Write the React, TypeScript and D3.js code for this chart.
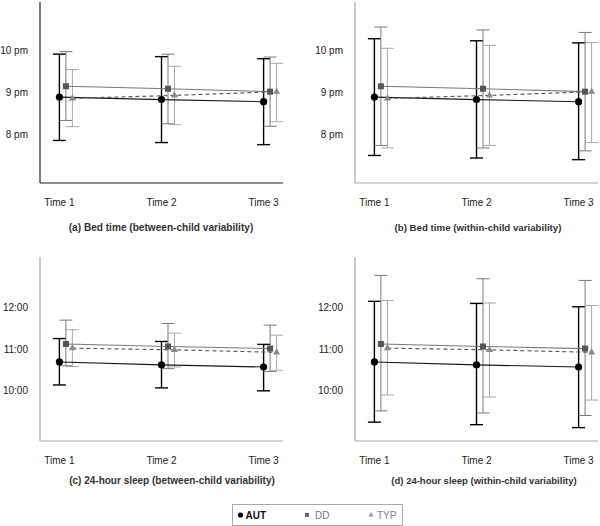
import React from 'react';
import * as d3 from 'd3';

// categories
const times = ['Time 1', 'Time 2', 'Time 3'];
const groups = ['AUT', 'DD', 'TYP'];

// bed time (clock hours, 24h)
const bedMean = {
  AUT: [20.89, 20.83, 20.78],
  DD: [21.15, 21.09, 21.02],
  TYP: [20.86, 20.93, 21.02],
};
const bedBetweenLo = { AUT: [19.85, 19.8, 19.75], DD: [20.33, 20.25, 20.19], TYP: [20.18, 20.23, 20.3] };
const bedBetweenHi = { AUT: [21.92, 21.86, 21.81], DD: [21.98, 21.92, 21.85], TYP: [21.55, 21.63, 21.7] };
const bedWithinLo = { AUT: [19.49, 19.43, 19.39], DD: [19.73, 19.67, 19.6], TYP: [19.67, 19.73, 19.8] };
const bedWithinHi = { AUT: [22.29, 22.24, 22.19], DD: [22.57, 22.5, 22.44], TYP: [22.06, 22.13, 22.2] };

// 24-hour sleep (hours)
const sleepMean = {
  AUT: [10.69, 10.62, 10.57],
  DD: [11.12, 11.06, 11.01],
  TYP: [11.02, 10.98, 10.92],
};
const sleepBetweenLo = { AUT: [10.14, 10.07, 10.0], DD: [10.6, 10.53, 10.46], TYP: [10.58, 10.57, 10.49] };
const sleepBetweenHi = { AUT: [11.25, 11.18, 11.11], DD: [11.69, 11.61, 11.57], TYP: [11.46, 11.38, 11.33] };
const sleepWithinLo = { AUT: [9.25, 9.19, 9.12], DD: [9.52, 9.47, 9.41], TYP: [9.9, 9.85, 9.78] };
const sleepWithinHi = { AUT: [12.14, 12.09, 12.01], DD: [12.76, 12.68, 12.64], TYP: [12.16, 12.1, 12.04] };

// tick labels
const bedTicks = [20, 21, 22];
const bedTickLabels = ['8 pm', '9 pm', '10 pm'];
const sleepTicks = [10, 11, 12];
const sleepTickLabels = ['10:00', '11:00', '12:00'];

const FONT = '"Liberation Sans", Arial, Helvetica, sans-serif';

const style = {
  AUT: { marker: '#000', bar: '#000', line: '#1a1a1a', dash: '', barW: 1.4 },
  DD: { marker: '#555', bar: '#7a7a7a', line: '#7a7a7a', dash: '', barW: 1 },
  TYP: { marker: '#8a8a8a', bar: '#a8a8a8', line: '#555', dash: '4,3', barW: 1 },
};
const offsets = { AUT: 0, DD: 6.5, TYP: 13 };

type PanelProps = {
  left: number; right: number; top: number; bottom: number;
  domain: [number, number];
  ticks: number[]; tickLabels: string[];
  mean: Record<string, number[]>;
  lo: Record<string, number[]>;
  hi: Record<string, number[]>;
  caption: string; capX: number; capSize: number;
  axisColor: string;
  capY: number; timeY: number;
};

function Panel(p: PanelProps) {
  const x = d3.scalePoint<string>().domain(times).range([p.left, p.right]).padding(0.19);
  const y = d3.scaleLinear().domain(p.domain).range([p.bottom, p.top]);

  const marker = (g: string, cx: number, cy: number, key: string) => {
    if (g === 'AUT') return <circle key={key} cx={cx} cy={cy} r={3.6} fill={style.AUT.marker} />;
    if (g === 'DD') return <rect key={key} x={cx - 3} y={cy - 3} width={6} height={6} fill={style.DD.marker} />;
    const s = d3.symbol().type(d3.symbolTriangle).size(22)();
    return <path key={key} d={s || ''} transform={`translate(${cx},${cy})`} fill={style.TYP.marker} />;
  };

  return (
    <g>
      {/* axes */}
      <line x1={p.left} x2={p.left} y1={p.top} y2={p.bottom} stroke={p.axisColor} strokeWidth={1.2} />
      <line x1={p.left} x2={p.right} y1={p.bottom} y2={p.bottom} stroke={p.axisColor} strokeWidth={1.2} />
      {p.ticks.map((t, i) => (
        <text key={t} x={p.left - 12} y={y(t)} dy="0.35em" textAnchor="end" fontSize={10} fontFamily={FONT} fill="#222">
          {p.tickLabels[i]}
        </text>
      ))}
      {times.map((t) => (
        <text key={t} x={x(t)} y={p.timeY} textAnchor="middle" fontSize={10} fontFamily={FONT} fill="#222">{t}</text>
      ))}
      <text x={p.capX} y={p.capY} textAnchor="middle" fontSize={p.capSize} fontWeight="bold" fontFamily={FONT} fill="#333">
        {p.caption}
      </text>

      {/* error bars */}
      {groups.map((g) => (
        <g key={'e' + g} stroke={style[g].bar} strokeWidth={style[g].barW}>
          {times.map((t, i) => {
            const cx = x(t)! + offsets[g];
            const y1 = y(p.hi[g][i]);
            const y2 = y(p.lo[g][i]);
            return (
              <g key={t}>
                <line x1={cx} x2={cx} y1={y1} y2={y2} />
                <line x1={cx - 6.5} x2={cx + 6.5} y1={y1} y2={y1} />
                <line x1={cx - 6.5} x2={cx + 6.5} y1={y2} y2={y2} />
              </g>
            );
          })}
        </g>
      ))}

      {/* mean lines */}
      {groups.map((g) => (
        <path
          key={'l' + g}
          d={d3.line<number>().x((_, i) => x(times[i])! + offsets[g]).y((d) => y(d))(p.mean[g]) || ''}
          fill="none"
          stroke={style[g].line}
          strokeWidth={1.1}
          strokeDasharray={style[g].dash}
        />
      ))}

      {/* markers */}
      {groups.map((g) => times.map((t, i) => marker(g, x(t)! + offsets[g], y(p.mean[g][i]), g + t)))}
    </g>
  );
}

export default function App() {
  const bedDomain: [number, number] = [18.83, 23.17];
  const sleepDomain: [number, number] = [8.8, 13.2];
  return (
    <svg width={600} height={526} style={{ position: 'absolute', left: 0, top: 0, background: '#fff' }}>
      <rect width={600} height={526} fill="#fff" />
      <Panel left={40} right={283} top={2} bottom={183} domain={bedDomain} ticks={bedTicks} tickLabels={bedTickLabels}
        mean={bedMean} lo={bedBetweenLo} hi={bedBetweenHi} caption="(a) Bed time (between-child variability)"
        capX={161} capSize={10.1} axisColor="#222" timeY={206} capY={231} />
      <Panel left={355} right={598} top={2} bottom={183} domain={bedDomain} ticks={bedTicks} tickLabels={bedTickLabels}
        mean={bedMean} lo={bedWithinLo} hi={bedWithinHi} caption="(b) Bed time (within-child variability)"
        capX={478} capSize={9.7} axisColor="#aaa" timeY={206} capY={231} />
      <Panel left={40} right={283} top={257} bottom={441} domain={sleepDomain} ticks={sleepTicks} tickLabels={sleepTickLabels}
        mean={sleepMean} lo={sleepBetweenLo} hi={sleepBetweenHi} caption="(c) 24-hour sleep (between-child variability)"
        capX={172} capSize={10} axisColor="#aaa" timeY={464} capY={484} />
      <Panel left={355} right={598} top={257} bottom={441} domain={sleepDomain} ticks={sleepTicks} tickLabels={sleepTickLabels}
        mean={sleepMean} lo={sleepWithinLo} hi={sleepWithinHi} caption="(d) 24-hour sleep (within-child variability)"
        capX={484} capSize={9.5} axisColor="#aaa" timeY={464} capY={484} />

      {/* legend */}
      <g fontFamily={FONT} fontSize={10}>
        <rect x={232.5} y={504.5} width={170} height={21} fill="none" stroke="#aaa" />
        <circle cx={240.5} cy={515} r={2.6} fill="#000" />
        <text x={245.5} y={515} dy="0.35em" fontWeight="bold" fill="#111">AUT</text>
        <rect x={305} y={513} width={4} height={4} fill="#666" />
        <text x={315} y={515} dy="0.35em" fill="#777">DD</text>
        <path d={d3.symbol().type(d3.symbolTriangle).size(12)() || ''} transform="translate(371,515)" fill="#999" />
        <text x={377} y={515} dy="0.35em" fill="#888">TYP</text>
      </g>
    </svg>
  );
}
